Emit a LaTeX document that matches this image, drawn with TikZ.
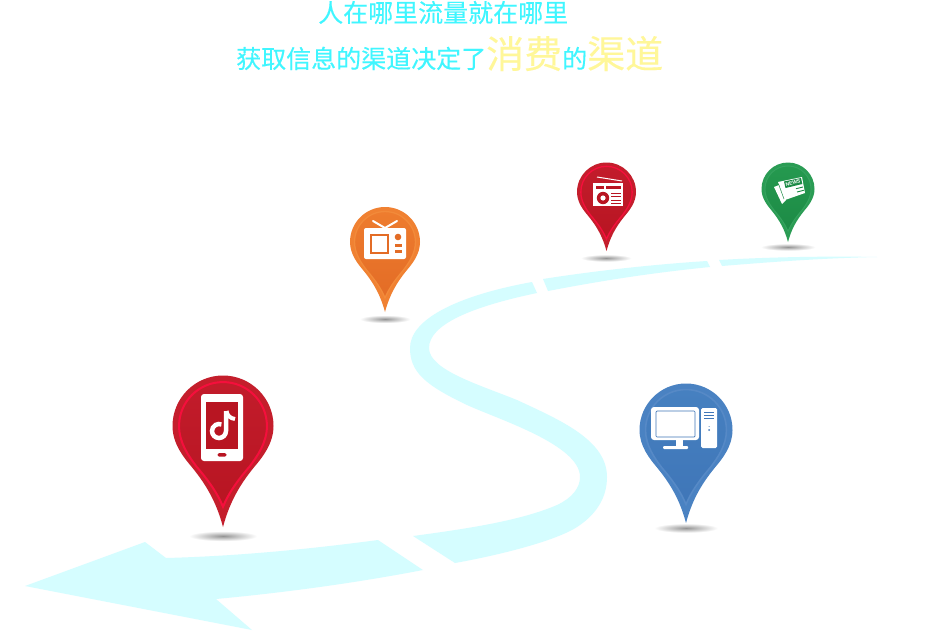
\documentclass[tikz,border=0pt]{standalone}
\usepackage{fontspec}
\newfontfamily\cjkf[FakeBold=0.25]{Noto Sans CJK SC}
\newfontfamily\latf{Liberation Sans}
\definecolor{road}{HTML}{D5FDFF}
\definecolor{cyantxt}{HTML}{40F6FF}
\definecolor{yeltxt}{HTML}{FFF799}
\definecolor{redO}{HTML}{C41E2C}\definecolor{redR}{HTML}{F50F3C}\definecolor{redT}{HTML}{C21C2B}\definecolor{redB}{HTML}{B81522}
\definecolor{bluO}{HTML}{4A82C2}\definecolor{bluR}{HTML}{5689C6}\definecolor{bluT}{HTML}{4680C0}\definecolor{bluB}{HTML}{3F76B8}
\definecolor{orgO}{HTML}{F08132}\definecolor{orgR}{HTML}{F28A3A}\definecolor{orgT}{HTML}{EE7C2E}\definecolor{orgB}{HTML}{E36C26}
\definecolor{grnO}{HTML}{2A9C54}\definecolor{grnR}{HTML}{35A25E}\definecolor{grnT}{HTML}{25994F}\definecolor{grnB}{HTML}{1C8A45}
\pgfdeclareradialshading{gshadow}{\pgfpointorigin}{color(0bp)=(black!42); color(7bp)=(black!25); color(18bp)=(white); color(50bp)=(white)}
\tikzset{
  roadpart/.style={fill=road,draw=none},
  titletxt/.style={inner sep=0pt,text=cyantxt},
  icon/.style={fill=white,draw=none},
  ground/.style={draw=none,shading=gshadow},
}
% cx cy r colour-prefix ring-width
\newcommand{\mypin}[5]{%
  \begin{scope}[shift={(#1,#2)},scale=#3]
    \fill[#4O] (0,2) .. controls (-0.12,1.55) and (-0.3,1.2) .. (-0.62,0.81)
      .. controls (-0.78,0.62) and (-1,0.35) .. (-1,0)
      arc[start angle=180,end angle=360,radius=1]
      .. controls (1,0.35) and (0.78,0.62) .. (0.62,0.81)
      .. controls (0.3,1.2) and (0.12,1.55) .. (0,2) -- cycle;
    \shade[top color=#4T,bottom color=#4B,draw=#4R,line width=#5]
      (0,1.6) .. controls (-0.1,1.35) and (-0.27,1.1) .. (-0.52,0.81)
      .. controls (-0.68,0.6) and (-0.87,0.33) .. (-0.87,0)
      arc[start angle=180,end angle=360,radius=0.87]
      .. controls (0.87,0.33) and (0.68,0.6) .. (0.52,0.81)
      .. controls (0.27,1.1) and (0.1,1.35) .. (0,1.6) -- cycle;
  \end{scope}}
\begin{document}
\begin{tikzpicture}[x=1pt,y=-1pt]
\useasboundingbox (0,0) rectangle (931,632);
\fill[white] (0,0) rectangle (931,632);
% road
\fill[roadpart] (719,260) .. controls (770,257) and (830,256) .. (877,257) .. controls (825,258) and (770,262) .. (722,266) -- cycle;
\fill[roadpart] (543,279) .. controls (600,270) and (660,264) .. (707,261) -- (710,267) .. controls (650,273) and (600,281) .. (548,291) -- cycle;
\fill[roadpart] (532,282) .. controls (455,296) and (410,320) .. (410,348)
  .. controls (410,372) and (425,385) .. (467,405)
  .. controls (500,420) and (580,445) .. (580,477)
  .. controls (580,488) and (572,498) .. (557,505)
  .. controls (520,521) and (465,529) .. (413,536)
  -- (455,563) .. controls (500,555) and (560,540) .. (580,525)
  .. controls (597,513) and (607,497) .. (607,477)
  .. controls (607,440) and (560,420) .. (517,400)
  .. controls (480,385) and (429,370) .. (429,348)
  .. controls (429,325) and (470,307) .. (537,293) -- cycle;
\fill[roadpart] (25,586) -- (145,542) -- (166,558) .. controls (240,556) and (310,549) .. (378,540)
  -- (423,570) .. controls (350,584) and (280,593) .. (216,599) -- (252,630) -- cycle;
% shadows
\shade[ground] (223,536) ellipse [x radius=47,y radius=7];
\shade[ground] (686,528) ellipse [x radius=44,y radius=6.5];
\shade[ground] (385,319) ellipse [x radius=35,y radius=5.5];
\shade[ground] (606,258) ellipse [x radius=35,y radius=5];
\shade[ground] (788,247) ellipse [x radius=38,y radius=5];
% pins
\mypin{223}{426}{50.5}{red}{2pt}
\mypin{686}{430}{46.5}{blu}{1.6pt}
\mypin{385}{242}{35}{org}{1.3pt}
\mypin{606.5}{192}{29.5}{red}{1.3pt}
\mypin{788}{189}{26.5}{grn}{1pt}
% phone icon
\fill[icon,rounded corners=3pt] (201,394) rectangle (243,461);
\fill[redB] (206,402) rectangle (238,449);
\fill[redB,rounded corners=1.5pt] (217.5,453) rectangle (226.5,456.5);
\draw[white,line width=4.5pt] (226,411) -- (226,431) arc[start angle=0,end angle=290,radius=7];
\draw[white,line width=4pt] (226.5,411) .. controls (227,416) and (231,418.5) .. (235,419);
% computer icon
\fill[icon,rounded corners=3pt] (651,407) rectangle (699,440);
\draw[bluB,line width=.7pt,rounded corners=1pt] (656,411) rectangle (695,437);
\fill[icon] (676,440) rectangle (683,446);
\fill[icon,rounded corners=1pt] (663,446) rectangle (688,449);
\fill[icon,rounded corners=1.5pt] (701,408) rectangle (717,448);
\foreach \yy in {412,415,418}{\draw[bluB,line width=.7pt] (704,\yy) -- (714,\yy);}
\fill[bluB] (709,430) circle [radius=1];
\fill[bluB] (709,426.5) circle [radius=.5];
% tv icon
\fill[icon,rounded corners=2pt] (364,228) rectangle (406,259);
\draw[white,line width=2pt,line cap=round] (373,221) -- (385,228) -- (397,221);
\draw[orgB,line width=1.4pt] (371,235) rectangle (388,253);
\fill[orgB] (398,237) circle [radius=3.3];
\fill[orgB] (395,244) rectangle (402,246.5);
\fill[orgB] (395,250) rectangle (402,252.5);
% radio icon
\fill[icon] (593,183) rectangle (623,206);
\draw[white,line width=1pt] (597,177) -- (622,181);
\fill[redB] (596,186) rectangle (604,189);
\fill[redB] (606,186) rectangle (621,189);
\fill[redB] (603,198) circle [radius=6.2];
\fill[white] (603,198) circle [radius=2.6];
\foreach \yy in {193,196.5,200,203.5}{\draw[redB,line width=1pt] (611,\yy) -- (621,\yy);}
% news icon
\fill[icon] (774,187) -- (779,185) -- (786,200) -- (782,204) -- cycle;
\fill[icon] (778,182) -- (802,177) -- (805,193) -- (785,200) -- cycle;
\draw[grnB,line width=.5pt] (778.5,184) -- (784,199);
\fill[grnB] (784,181.5) -- (801,178) -- (802.3,184) -- (785.5,188) -- cycle;
\node[rotate=13,inner sep=0pt,text=white,font=\latf\bfseries\fontsize{5}{5}\selectfont] (newstext) at (793,183) {NEWS};
\draw[grnB,line width=.9pt] (796,188.7) -- (803,187);
\draw[grnB,line width=.9pt] (797,192) -- (804,190.2);
% title
\node[titletxt,anchor=base west,font=\cjkf\fontsize{25}{25}\selectfont] (line1) at (318,22) {人在哪里流量就在哪里};
\node[titletxt,anchor=base west,font=\cjkf\fontsize{25}{25}\selectfont] (line2) at (236,68)
 {获取信息的渠道决定了{\fontsize{38}{38}\selectfont\color{yeltxt}消费}的{\fontsize{38}{38}\selectfont\color{yeltxt}渠道}};
\end{tikzpicture}
\end{document}
